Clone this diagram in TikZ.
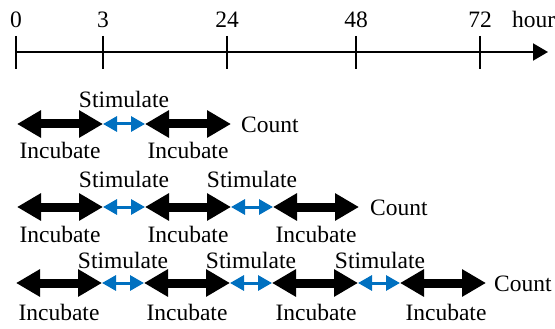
\documentclass[tikz,border=0pt]{standalone}
\usepackage{fontspec}
\setmainfont{Liberation Serif}
\usetikzlibrary{arrows.meta}
\definecolor{stimblue}{RGB}{0,112,192}
\tikzset{
  lbl/.style={inner sep=0pt, anchor=base, font=\rmfamily\fontsize{23.5}{28}\selectfont},
  lblw/.style={lbl, anchor=base west},
  incarrow/.style={line width=9pt, {Triangle[length=24pt,width=26pt]}-{Triangle[length=24pt,width=26pt]}},
  stimarrow/.style={stimblue, line width=3pt, {Triangle[length=14pt,width=15pt]}-{Triangle[length=14pt,width=15pt]}},
  axisline/.style={line width=2pt, -{Triangle[length=15pt,width=17pt]}},
  tickline/.style={line width=2pt}
}
\begin{document}
\begin{tikzpicture}[x=1pt,y=-1pt]
\useasboundingbox (0,0) rectangle (555,329);
% axis
\coordinate (ax0) at (16,52);
\coordinate (ax1) at (548,52);
\draw[axisline] (ax0) -- (ax1);
\foreach \x/\t/\n in {16/0/a,103/3/b,227/24/c,356/48/d,480/72/e}{
  \coordinate (t\n top) at (\x,36);
  \coordinate (t\n bot) at (\x,69);
  \draw[tickline] (t\n top) -- (t\n bot);
  \node[lbl] (tl\n) at (\x,28) {\t};
}
\node[lblw] (hour) at (512,28) {hour};
% row 1
\foreach \i/\x in {0/17,1/103,2/145,3/231}{\coordinate (r1p\i) at (\x,124);}
\draw[incarrow] (r1p0) -- (r1p1);
\draw[stimarrow] (r1p1) -- (r1p2);
\draw[incarrow] (r1p2) -- (r1p3);
\node[lbl] (r1s1) at (124,107) {Stimulate};
\node[lbl] (r1i1) at (60,158) {Incubate};
\node[lbl] (r1i2) at (188,158) {Incubate};
\node[lblw] (r1c) at (241,132) {Count};
% row 2
\foreach \i/\x in {0/17,1/103,2/145,3/231,4/273,5/359}{\coordinate (r2p\i) at (\x,207);}
\draw[incarrow] (r2p0) -- (r2p1);
\draw[stimarrow] (r2p1) -- (r2p2);
\draw[incarrow] (r2p2) -- (r2p3);
\draw[stimarrow] (r2p3) -- (r2p4);
\draw[incarrow] (r2p4) -- (r2p5);
\node[lbl] (r2s1) at (124,187) {Stimulate};
\node[lbl] (r2s2) at (252,187) {Stimulate};
\node[lbl] (r2i1) at (60,242) {Incubate};
\node[lbl] (r2i2) at (188,242) {Incubate};
\node[lbl] (r2i3) at (316,242) {Incubate};
\node[lblw] (r2c) at (370,215) {Count};
% row 3
\foreach \i/\x in {0/16,1/102,2/144,3/230,4/272,5/358,6/400,7/486}{\coordinate (r3p\i) at (\x,283);}
\draw[incarrow] (r3p0) -- (r3p1);
\draw[stimarrow] (r3p1) -- (r3p2);
\draw[incarrow] (r3p2) -- (r3p3);
\draw[stimarrow] (r3p3) -- (r3p4);
\draw[incarrow] (r3p4) -- (r3p5);
\draw[stimarrow] (r3p5) -- (r3p6);
\draw[incarrow] (r3p6) -- (r3p7);
\node[lbl] (r3s1) at (123,268) {Stimulate};
\node[lbl] (r3s2) at (251,268) {Stimulate};
\node[lbl] (r3s3) at (380,268) {Stimulate};
\node[lbl] (r3i1) at (59,320) {Incubate};
\node[lbl] (r3i2) at (187,320) {Incubate};
\node[lbl] (r3i3) at (316,320) {Incubate};
\node[lbl] (r3i4) at (446,320) {Incubate};
\node[lblw] (r3c) at (494,291) {Count};
\end{tikzpicture}
\end{document}
